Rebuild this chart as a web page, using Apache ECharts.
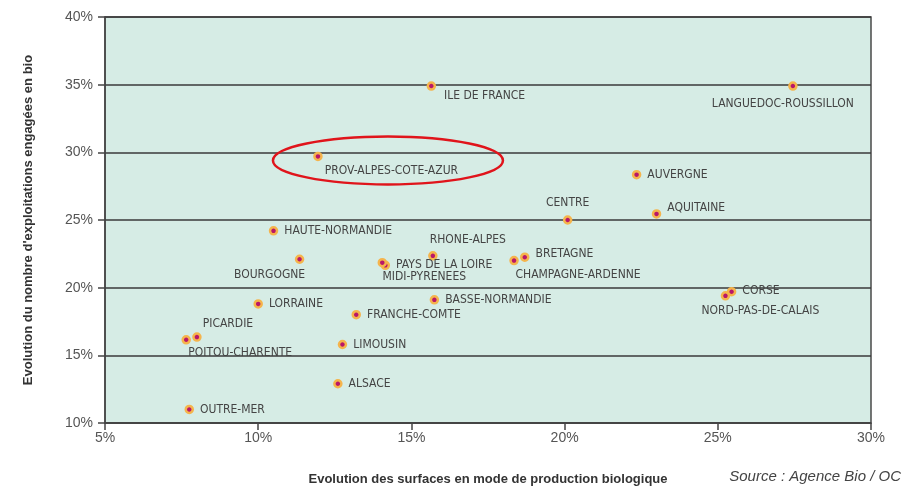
<!DOCTYPE html>
<html>
  <head>
    <meta charset="UTF-8" />
    <title>Evolution bio par région</title>
    <script src="https://cdn.jsdelivr.net/npm/echarts@6/dist/echarts.min.js"></script>
    <style>
      html, body { margin: 0; padding: 0; background: #fff; }
      #chart { width: 915px; height: 488px; }
    </style>
  </head>
  <body>
    <div id="chart"></div>
    <script type="text/javascript">
      // données (en %)
      var regions = [
        "ILE DE FRANCE", "LANGUEDOC-ROUSSILLON", "PROV-ALPES-COTE-AZUR", "AUVERGNE",
        "CENTRE", "AQUITAINE", "HAUTE-NORMANDIE", "BOURGOGNE", "RHONE-ALPES",
        "PAYS DE LA LOIRE", "MIDI-PYRENEES", "BRETAGNE", "CHAMPAGNE-ARDENNE",
        "CORSE", "NORD-PAS-DE-CALAIS", "LORRAINE", "BASSE-NORMANDIE",
        "FRANCHE-COMTE", "PICARDIE", "POITOU-CHARENTE", "LIMOUSIN", "ALSACE", "OUTRE-MER"
      ];
      var surfaces = [
        15.65, 27.45, 11.95, 22.35, 20.1, 23.0, 10.5, 11.35, 15.7,
        14.15, 14.05, 18.7, 18.35, 25.45, 25.25, 10.0, 15.75,
        13.2, 8.0, 7.65, 12.75, 12.6, 7.75
      ];
      var exploitations = [
        34.9, 34.9, 29.7, 28.35, 25.0, 25.45, 24.2, 22.1, 22.35,
        21.65, 21.85, 22.25, 22.0, 19.7, 19.4, 18.8, 19.1,
        18.0, 16.35, 16.15, 15.8, 12.9, 11.0
      ];
      var xTicks = [5, 10, 15, 20, 25, 30];
      var yTicks = [10, 15, 20, 25, 30, 35, 40];

      // placement des étiquettes (hors données) : position + décalage en px
      var labelPlace = {
        "ILE DE FRANCE": { position: "right", d: [2, 10] },
        "LANGUEDOC-ROUSSILLON": { position: "bottom", d: [-10, 1] },
        "PROV-ALPES-COTE-AZUR": { position: "right", d: [-4, 14] },
        "CENTRE": { position: "top", d: [0, 0] },
        "AQUITAINE": { position: "right", d: [0, -6] },
        "BOURGOGNE": { position: "bottom", d: [-30, -1] },
        "RHONE-ALPES": { position: "top", d: [35, 1] },
        "MIDI-PYRENEES": { position: "bottom", d: [42, -3] },
        "BRETAGNE": { position: "right", d: [0, -3] },
        "CHAMPAGNE-ARDENNE": { position: "bottom", d: [64, -2] },
        "CORSE": { position: "right", d: [0, -1] },
        "NORD-PAS-DE-CALAIS": { position: "bottom", d: [35, -2] },
        "PICARDIE": { position: "top", d: [31, 4] },
        "POITOU-CHARENTE": { position: "bottom", d: [54, -4] }
      };

      var points = regions.map(function (name, i) {
        var item = { name: name, value: [surfaces[i], exploitations[i]] };
        if (labelPlace[name]) {
          item.label = { position: labelPlace[name].position };
        }
        return item;
      });

      var labelFont = "'Liberation Sans Narrow', 'DejaVu Sans Condensed', sans-serif";
      var axisFont = "'Liberation Sans', 'DejaVu Sans', sans-serif";

      var myChart = echarts.init(document.getElementById("chart"));

      var sourceText = {
        type: "text",
        right: 14,
        top: 469,
        style: {
          text: "Source : Agence Bio / OC",
          font: "italic 15px 'Liberation Sans', sans-serif",
          fill: "#444"
        }
      };

      var option = {
        backgroundColor: "#ffffff",
        animation: false,
        grid: {
          left: 105,
          right: 44,
          top: 17,
          bottom: 65,
          containLabel: false,
          outerBoundsMode: "none",
          show: true,
          backgroundColor: "#d6ece5",
          borderColor: "#4a4a4a",
          borderWidth: 1.5
        },
        xAxis: {
          type: "value",
          min: xTicks[0],
          max: xTicks[xTicks.length - 1],
          interval: 5,
          name: "Evolution des surfaces en mode de production biologique",
          nameLocation: "middle",
          nameGap: 50,
          nameTextStyle: { fontFamily: axisFont, fontWeight: "bold", fontSize: 13, color: "#333" },
          axisLine: { lineStyle: { color: "#444", width: 1.5 } },
          axisTick: { show: true, inside: false, length: 7, lineStyle: { color: "#444", width: 1.5 } },
          axisLabel: {
            formatter: "{value}%",
            fontFamily: axisFont,
            fontSize: 14,
            color: "#555",
            margin: 8
          },
          splitLine: { show: false }
        },
        yAxis: {
          type: "value",
          min: yTicks[0],
          max: yTicks[yTicks.length - 1],
          interval: 5,
          name: "Evolution du nombre d'exploitations engagées en bio",
          nameLocation: "middle",
          nameGap: 70,
          nameTextStyle: { fontFamily: axisFont, fontWeight: "bold", fontSize: 13, color: "#333" },
          axisLine: { show: true, lineStyle: { color: "#444", width: 1.5 } },
          axisTick: { show: true, inside: false, length: 7, lineStyle: { color: "#444", width: 1.5 } },
          axisLabel: {
            formatter: "{value}%",
            fontFamily: axisFont,
            fontSize: 14,
            color: "#555",
            margin: 12
          },
          splitLine: { show: true, lineStyle: { color: "#3a3a3a", width: 1.5 } }
        },
        series: [
          {
            type: "scatter",
            symbol: "circle",
            symbolSize: 7,
            itemStyle: {
              color: "#b8176a",
              borderColor: "#f5b44c",
              borderWidth: 2.5,
              opacity: 1
            },
            label: {
              show: true,
              position: "right",
              distance: 6,
              formatter: "{b}",
              fontFamily: labelFont,
              fontSize: 12,
              color: "#444"
            },
            labelLayout: function (params) {
              var lp = labelPlace[regions[params.dataIndex]];
              if (lp) {
                return { dx: lp.d[0], dy: lp.d[1], hideOverlap: false };
              }
              return { hideOverlap: false };
            },
            data: points
          }
        ],
        graphic: [sourceText]
      };

      myChart.setOption(option);

      // ellipse rouge autour de PACA, placée à partir du point
      var paca = regions.indexOf("PROV-ALPES-COTE-AZUR");
      var p = myChart.convertToPixel({ seriesIndex: 0 }, [surfaces[paca], exploitations[paca]]);
      myChart.setOption({
        graphic: [
          sourceText,
          {
            type: "ellipse",
            shape: { cx: p[0] + 70, cy: p[1] + 4, rx: 115, ry: 24 },
            style: { fill: "none", stroke: "#e0141b", lineWidth: 2.5 },
            z: 10
          }
        ]
      });
    </script>
  </body>
</html>
